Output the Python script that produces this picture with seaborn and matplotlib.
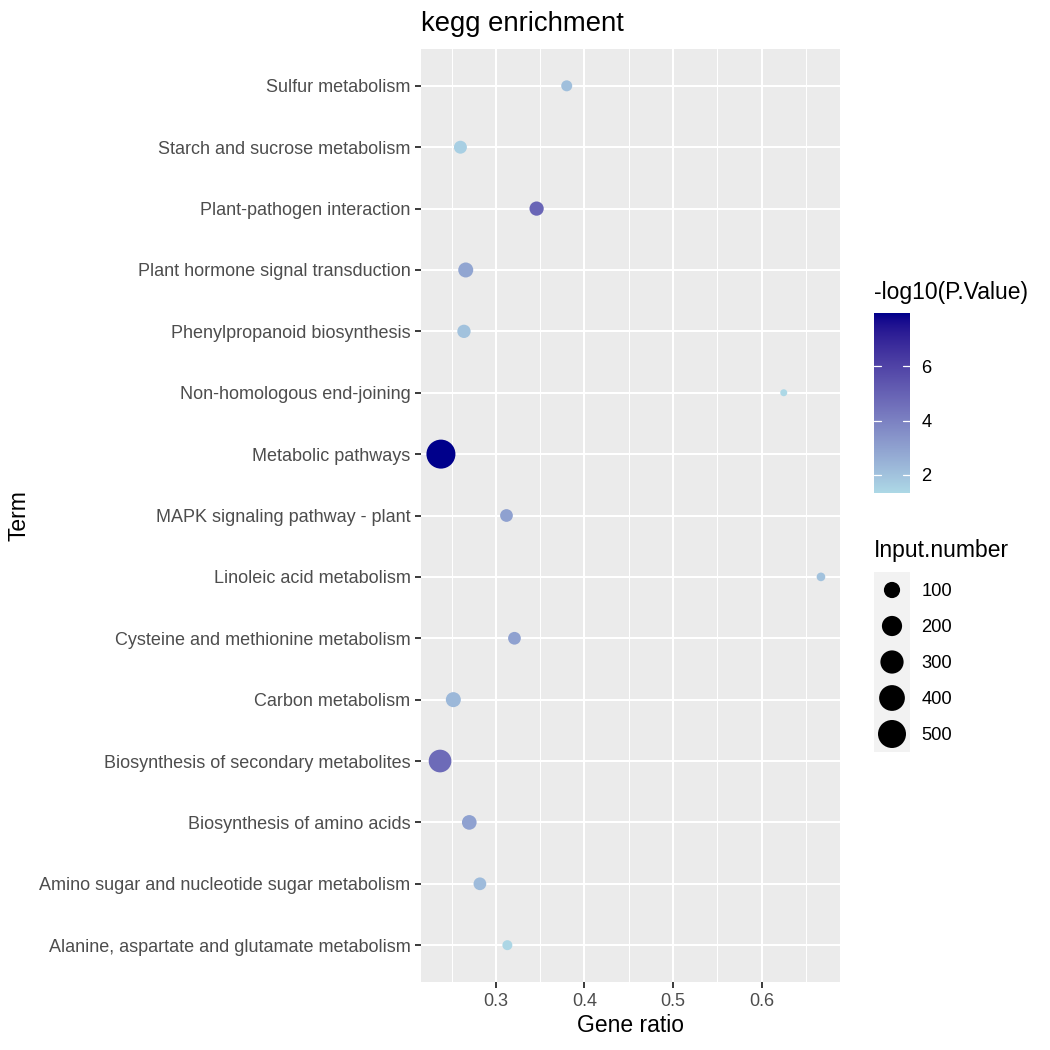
import numpy as np
import pandas as pd
import matplotlib
matplotlib.use("Agg")
import matplotlib.pyplot as plt
import seaborn as sns
from matplotlib.colors import ListedColormap

# ---------------- data ----------------
terms = [
    "Sulfur metabolism",
    "Starch and sucrose metabolism",
    "Plant-pathogen interaction",
    "Plant hormone signal transduction",
    "Phenylpropanoid biosynthesis",
    "Non-homologous end-joining",
    "Metabolic pathways",
    "MAPK signaling pathway - plant",
    "Linoleic acid metabolism",
    "Cysteine and methionine metabolism",
    "Carbon metabolism",
    "Biosynthesis of secondary metabolites",
    "Biosynthesis of amino acids",
    "Amino sugar and nucleotide sugar metabolism",
    "Alanine, aspartate and glutamate metabolism",
]
gene_ratio = [0.380, 0.260, 0.346, 0.266, 0.264, 0.625, 0.238, 0.312,
              0.667, 0.321, 0.252, 0.237, 0.270, 0.282, 0.313]
input_number = [23, 45, 64, 77, 50, 5, 548, 42, 8, 42, 77, 282, 71, 42, 15]
neg_log10_p = [2.1, 1.6, 4.9, 2.9, 2.0, 1.33, 7.96, 3.0, 2.0, 3.0, 2.3, 4.7,
               3.0, 2.2, 1.4]
x_ticks = [0.3, 0.4, 0.5, 0.6]
x_minor = [0.25, 0.35, 0.45, 0.55, 0.65]
cbar_ticks = [2, 4, 6]
size_breaks = [100, 200, 300, 400, 500]

df = pd.DataFrame({"Term": terms, "Gene ratio": gene_ratio,
                   "Input.number": input_number,
                   "-log10(P.Value)": neg_log10_p})
df = df.sort_values("Term", key=lambda s: s.str.lower()).reset_index(drop=True)

# ---------------- colour scale (Lab interpolation like ggplot) ----------------
_M = np.array([[0.4124, 0.3576, 0.1805], [0.2126, 0.7152, 0.0722],
               [0.0193, 0.1192, 0.9505]])
_WHITE = np.array([0.95047, 1.0, 1.08883])

def _srgb_to_lab(rgb):
    rgb = np.asarray(rgb, float)
    lin = np.where(rgb <= 0.04045, rgb / 12.92, ((rgb + 0.055) / 1.055) ** 2.4)
    xyz = _M @ lin / _WHITE
    f = np.where(xyz > 0.008856, np.cbrt(xyz), 7.787 * xyz + 16 / 116)
    return np.array([116 * f[1] - 16, 500 * (f[0] - f[1]), 200 * (f[1] - f[2])])

def _lab_to_srgb(lab):
    L, a, b = lab
    fy = (L + 16) / 116
    f = np.array([fy + a / 500, fy, fy - b / 200])
    xyz = np.where(f ** 3 > 0.008856, f ** 3, (f - 16 / 116) / 7.787) * _WHITE
    lin = np.clip(np.linalg.inv(_M) @ xyz, 0, 1)
    rgb = np.where(lin <= 0.0031308, 12.92 * lin, 1.055 * lin ** (1 / 2.4) - 0.055)
    return np.clip(rgb, 0, 1)

low = _srgb_to_lab(np.array([0xAD, 0xD8, 0xE6]) / 255)
high = _srgb_to_lab(np.array([0x00, 0x00, 0x8B]) / 255)
cmap = ListedColormap([_lab_to_srgb(low + (high - low) * t)
                       for t in np.linspace(0, 1, 256)])
vmin, vmax = min(neg_log10_p), max(neg_log10_p)

# ---------------- size scale (ggplot area scale, range 1..6) ----------------
smin, smax = min(input_number), max(input_number)
def point_area(v):
    t = np.clip((v - smin) / (smax - smin), 0, 1)
    s = 1 + 5 * np.sqrt(t)
    d_px = 4.4 * (s + 0.59)
    return (d_px * 72 / 150) ** 2

size_lookup = {v: point_area(v) for v in sorted(set(input_number))}

# ---------------- figure ----------------
sns.set_theme(style="darkgrid")
plt.rcParams["font.family"] = ["Liberation Sans", "DejaVu Sans"]

W = H = 1050
fig = plt.figure(figsize=(7, 7), dpi=150, facecolor="white")
pl, pr, pt, pb = 421, 840, 49, 982
ax = fig.add_axes([pl / W, 1 - pb / H, (pr - pl) / W, (pb - pt) / H])
ax.set_facecolor("#EBEBEB")

sns.scatterplot(data=df, x="Gene ratio", y="Term", hue="-log10(P.Value)",
                size="Input.number", sizes=size_lookup, palette=cmap,
                hue_norm=(vmin, vmax), linewidth=0, legend=False, ax=ax,
                zorder=3)

xr = max(gene_ratio) - min(gene_ratio)
ax.set_xlim(min(gene_ratio) - 0.05 * xr, max(gene_ratio) + 0.05 * xr)
n = len(terms)
if ax.yaxis_inverted():
    ax.invert_yaxis()
ax.set_ylim(-0.6, n - 1 + 0.6)

ax.set_xticks(x_ticks)
ax.set_xticklabels([f"{v:.1f}" for v in x_ticks])
ax.set_xticks(x_minor, minor=True)
ax.grid(False)
for v in x_minor:
    ax.axvline(v, color="white", lw=0.5, zorder=1)
for v in x_ticks:
    ax.axvline(v, color="white", lw=1.0, zorder=1)
for i in range(n):
    ax.axhline(i, color="white", lw=1.0, zorder=1)
for sp in ax.spines.values():
    sp.set_visible(False)

ax.tick_params(axis="both", which="major", length=2.9, width=0.9,
               color="#333333", labelcolor="#4D4D4D", labelsize=8.65, pad=2.2,
               bottom=True, left=True)
ax.tick_params(axis="x", which="minor", length=0)
ax.set_xlabel("Gene ratio", fontsize=11, color="black", labelpad=2)
ax.set_ylabel("Term", fontsize=11, color="black")
ax.yaxis.set_label_coords((30 - pl) / (pr - pl), 0.5)
ax.set_title("kegg enrichment", fontsize=13.2, color="black", loc="left", pad=8.5)

# ---------------- colour bar legend ----------------
cb_l, cb_r, cb_t, cb_b = 874, 910, 313, 493
cax = fig.add_axes([cb_l / W, 1 - cb_b / H, (cb_r - cb_l) / W, (cb_b - cb_t) / H])
grad = np.linspace(vmin, vmax, 300).reshape(-1, 1)
cax.imshow(grad, extent=[0, 1, vmin, vmax], origin="lower", aspect="auto",
           cmap=cmap, vmin=vmin, vmax=vmax)
cax.set_xlim(0, 1)
cax.set_ylim(vmin, vmax)
for tv in cbar_ticks:
    cax.plot([0, 0.2], [tv, tv], color="white", lw=0.6)
    cax.plot([0.8, 1], [tv, tv], color="white", lw=0.6)
cax.set_xticks([])
cax.set_yticks(cbar_ticks)
cax.set_yticklabels([str(t) for t in cbar_ticks])
cax.yaxis.tick_right()
cax.tick_params(axis="y", length=0, labelsize=8.8, labelcolor="black", pad=5.5)
cax.grid(False)
for sp in cax.spines.values():
    sp.set_visible(False)
fig.text(cb_l / W, 1 - 292 / H, "-log10(P.Value)", fontsize=11, color="black",
         ha="left", va="center")

# ---------------- size legend ----------------
lg_l, lg_r, lg_t, lg_b = 874, 910, 572, 752
lax = fig.add_axes([lg_l / W, 1 - lg_b / H, (lg_r - lg_l) / W, (lg_b - lg_t) / H])
lax.set_facecolor("#F2F2F2")
nb = len(size_breaks)
ypos = np.arange(nb)[::-1]
lax.scatter(np.full(nb, 0.5), ypos, s=[point_area(v) for v in size_breaks],
            color="black", linewidths=0)
lax.set_xlim(0, 1)
lax.set_ylim(-0.5, nb - 0.5)
lax.set_xticks([])
lax.set_yticks(ypos)
lax.set_yticklabels([str(v) for v in size_breaks])
lax.yaxis.tick_right()
lax.tick_params(axis="y", length=0, labelsize=8.8, labelcolor="black", pad=5.5)
lax.grid(False)
for sp in lax.spines.values():
    sp.set_visible(False)
fig.text(lg_l / W, 1 - 551 / H, "Input.number", fontsize=11, color="black",
         ha="left", va="center")

fig.savefig("out.png", dpi=150, facecolor="white")
